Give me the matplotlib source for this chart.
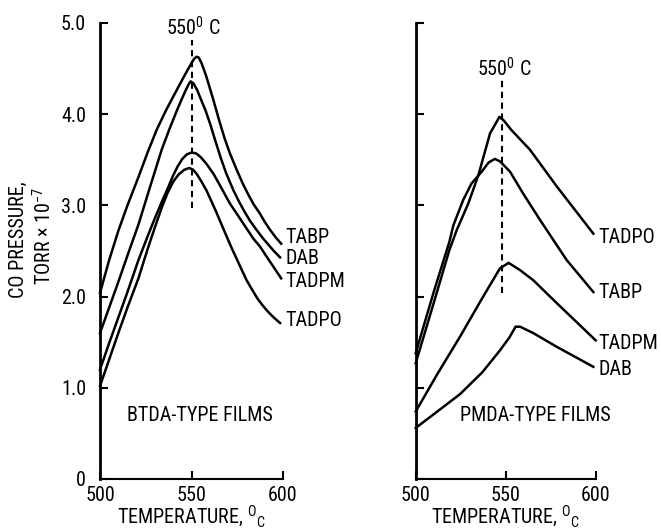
import matplotlib
matplotlib.use("Agg")
import matplotlib.pyplot as plt
from matplotlib import font_manager

# ---- data: CO pressure (torr x 1e-7) vs temperature (deg C) ----
btda_tabp_t = [500, 505, 510, 515, 521, 526, 531, 536, 541, 545, 548, 550, 551.5, 552.8, 554, 555.5,
               558, 561.9, 565, 568, 571, 574.7, 578, 581, 584, 587.4, 590, 593, 596, 599]
btda_tabp_p = [2.04, 2.40, 2.72, 3.00, 3.31, 3.58, 3.83, 4.04, 4.23, 4.38, 4.49, 4.56, 4.61, 4.63, 4.62, 4.56,
               4.42, 4.16, 3.94, 3.74, 3.57, 3.39, 3.24, 3.12, 3.01, 2.91, 2.82, 2.73, 2.65, 2.58]

btda_dab_t = [500, 505, 510, 515, 521, 527, 533.7, 538, 542, 545, 547, 548.5, 549.5, 551, 553, 555,
              557.5, 560.1, 563, 566, 569, 572.8, 576, 579, 582, 585.6, 589, 592, 595, 598.4]
btda_dab_p = [1.60, 1.88, 2.16, 2.45, 2.79, 3.18, 3.61, 3.84, 4.04, 4.18, 4.27, 4.33, 4.36, 4.34, 4.27, 4.17,
              4.05, 3.90, 3.71, 3.52, 3.35, 3.17, 3.04, 2.93, 2.83, 2.73, 2.64, 2.57, 2.50, 2.43]

btda_tadpm_t = [500, 505, 510, 515, 521, 526, 530, 534, 537.3, 540, 542.5, 545, 547.5, 550.1, 552.5, 555,
                558, 561.9, 565, 568, 571, 574.7, 578, 581, 584, 587.4, 590, 593, 596, 599]
btda_tadpm_p = [1.20, 1.49, 1.77, 2.05, 2.40, 2.66, 2.86, 3.05, 3.20, 3.33, 3.43, 3.51, 3.56, 3.58, 3.57, 3.53,
                3.46, 3.35, 3.24, 3.13, 3.02, 2.91, 2.81, 2.72, 2.63, 2.55, 2.47, 2.38, 2.29, 2.20]

btda_tadpo_t = [500, 505, 510, 515, 521, 526, 530, 534, 537, 540, 543, 546, 548.8, 551, 553, 555.5,
                558.3, 561, 563.5, 566, 569.2, 572, 575, 578, 580.1, 583, 586, 589, 592, 595, 598.4]
btda_tadpo_p = [1.02, 1.31, 1.60, 1.88, 2.20, 2.52, 2.76, 2.99, 3.14, 3.26, 3.34, 3.39, 3.41, 3.39, 3.34, 3.26,
                3.16, 3.04, 2.93, 2.81, 2.66, 2.53, 2.40, 2.27, 2.18, 2.08, 1.98, 1.90, 1.83, 1.77, 1.71]

pmda_tadpo_t = [500, 510, 518.7, 522.8, 529.2, 534.8, 541.3, 546.5, 549, 553, 563.5, 578.3, 598.7]
pmda_tadpo_p = [1.27, 1.93, 2.51, 2.73, 3.02, 3.33, 3.79, 3.97, 3.93, 3.83, 3.61, 3.21, 2.69]

pmda_tabp_t = [500, 510, 518.7, 520.9, 526.4, 531, 536.7, 540.5, 544, 547, 552.4, 560, 569.1, 583.9, 598.7]
pmda_tabp_p = [1.38, 2.05, 2.60, 2.78, 3.06, 3.24, 3.37, 3.47, 3.51, 3.48, 3.37, 3.12, 2.84, 2.40, 2.05]

pmda_tadpm_t = [500, 512, 524.6, 536, 546.8, 551.6, 558, 565.3, 578.3, 600]
pmda_tadpm_p = [0.74, 1.15, 1.56, 1.95, 2.31, 2.37, 2.29, 2.18, 1.93, 1.52]

pmda_dab_t = [500, 512, 524.6, 537, 546.8, 552, 555.5, 558, 565.3, 578.3, 598.7]
pmda_dab_p = [0.56, 0.74, 0.93, 1.17, 1.41, 1.55, 1.67, 1.67, 1.60, 1.45, 1.23]

x_ticks = [500, 550, 600]
x_tick_labels = ["500", "550", "600"]
y_ticks = [0, 1, 2, 3, 4, 5]
y_tick_labels = ["0", "1.0", "2.0", "3.0", "4.0", "5.0"]

# ---- fonts: prefer a narrow sans, fall back to a smaller regular one ----
installed = {f.name for f in font_manager.fontManager.ttflist}
FONT, FS = "Liberation Sans", 12
for cand in ("Liberation Sans Narrow", "Roboto Condensed", "Open Sans Condensed"):
    if cand in installed:
        FONT, FS = cand, 14.5
        break
plt.rcParams["font.family"] = [FONT, "DejaVu Sans"]
plt.rcParams["mathtext.fontset"] = "custom"
plt.rcParams["mathtext.rm"] = FONT
plt.rcParams["mathtext.it"] = FONT
plt.rcParams["mathtext.bf"] = FONT

LW = 1.8

fig = plt.figure(figsize=(6.61, 5.31), dpi=100)
ax_l = fig.add_axes([100 / 661, 52 / 531, 183 / 661, 456 / 531])
ax_r = fig.add_axes([415.7 / 661, 52 / 531, 180 / 661, 456 / 531])


def style_axes(ax, show_ylabels):
    ax.set_xlim(500, 600)
    ax.set_ylim(0, 5.0)
    for side in ("top", "right"):
        ax.spines[side].set_visible(False)
    ax.spines["left"].set_linewidth(2.0)
    ax.spines["bottom"].set_linewidth(1.5)
    ax.set_xticks(x_ticks)
    ax.set_xticklabels(x_tick_labels, fontsize=FS)
    ax.set_yticks(y_ticks)
    if show_ylabels:
        ax.set_yticklabels(y_tick_labels, fontsize=FS)
    else:
        ax.set_yticklabels([])
    ax.tick_params(axis="both", direction="in", length=6, width=1.5, color="black")
    ax.tick_params(axis="x", pad=5)
    ax.tick_params(axis="y", pad=10)
    ax.patch.set_alpha(0)
    ax.set_xlabel("TEMPERATURE, $^{\\mathrm{O}}{}_{\\mathrm{C}}$", fontsize=FS, labelpad=-1)


style_axes(ax_l, True)
style_axes(ax_r, False)

# left panel: BTDA-type films
ax_l.plot(btda_tabp_t, btda_tabp_p, color="black", lw=LW, clip_on=False)
ax_l.plot(btda_dab_t, btda_dab_p, color="black", lw=LW, clip_on=False)
ax_l.plot(btda_tadpm_t, btda_tadpm_p, color="black", lw=LW, clip_on=False)
ax_l.plot(btda_tadpo_t, btda_tadpo_p, color="black", lw=LW, clip_on=False)
ax_l.plot([550, 550], [2.97, 4.81], color="black", lw=1.5, ls=(0, (3, 2.2)))
ax_l.text(551, 4.95, "550$^{\\mathrm{0}}$ C", fontsize=FS, ha="center", va="center")
for name, yv in [("TABP", 2.65), ("DAB", 2.42), ("TADPM", 2.17), ("TADPO", 1.74)]:
    ax_l.text(601.5, yv, name, fontsize=FS, ha="left", va="center", clip_on=False)
ax_l.text(514.5, 0.70, "BTDA-TYPE FILMS", fontsize=FS, ha="left", va="center")

# right panel: PMDA-type films
ax_r.plot(pmda_tadpo_t, pmda_tadpo_p, color="black", lw=LW, clip_on=False)
ax_r.plot(pmda_tabp_t, pmda_tabp_p, color="black", lw=LW, clip_on=False)
ax_r.plot(pmda_tadpm_t, pmda_tadpm_p, color="black", lw=LW, clip_on=False)
ax_r.plot(pmda_dab_t, pmda_dab_p, color="black", lw=LW, clip_on=False)
ax_r.plot([548, 548], [2.04, 4.37], color="black", lw=1.5, ls=(0, (3, 2.2)))
ax_r.text(549, 4.50, "550$^{\\mathrm{0}}$ C", fontsize=FS, ha="center", va="center")
for name, yv in [("TADPO", 2.65), ("TABP", 2.05), ("TADPM", 1.49), ("DAB", 1.20)]:
    ax_r.text(601.5, yv, name, fontsize=FS, ha="left", va="center", clip_on=False)
ax_r.text(524.5, 0.70, "PMDA-TYPE FILMS", fontsize=FS, ha="left", va="center")

# shared y-axis title, two lines
fig.text(18 / 661, 1 - 240 / 531, "CO PRESSURE,", rotation=90, fontsize=FS,
         ha="center", va="center")
fig.text(44 / 661, 1 - 236 / 531, "TORR $\\times$ 10$^{-7}$", rotation=90, fontsize=FS,
         ha="center", va="center")

fig.savefig("out.png", dpi=100)
